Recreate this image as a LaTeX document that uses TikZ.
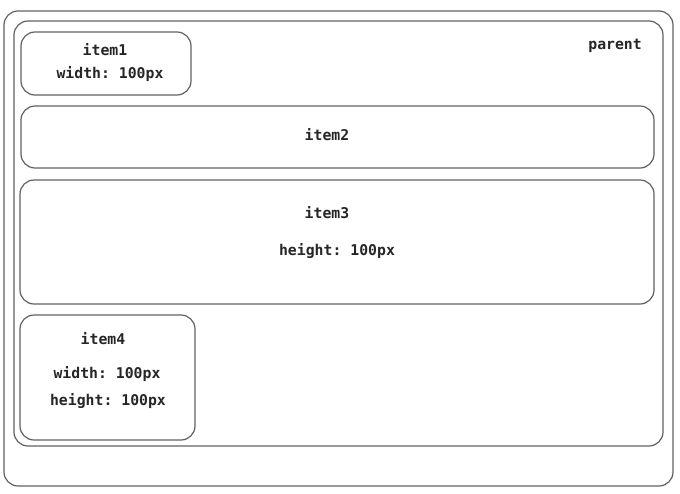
\documentclass[tikz,border=0pt]{standalone}
\usepackage{fontspec}
\setmonofont{DejaVu Sans Mono}
\usepackage{tikz}
\usetikzlibrary{positioning}

\tikzset{
	box/.style={draw=black!62, line width=1.2pt, rounded corners=14pt, inner sep=0pt, fill=white},
	txt/.style={font=\ttfamily\bfseries\fontsize{14.8pt}{17pt}\selectfont, text=black!85, inner sep=0pt, anchor=center},
}

\begin{document}
\begin{tikzpicture}[x=1pt, y=-1pt]
		\useasboundingbox (0,0) rectangle (680,493);
		\node[box, minimum width=669pt, minimum height=475pt] (outer) at (338.5,248.5) {};
		\node[box, minimum width=649pt, minimum height=425pt] (parent) at (338.5,233.5) {};
		\node[box, minimum width=170pt, minimum height=63pt] (item1) at (106,63.5) {};
		\node[box, minimum width=633pt, minimum height=62pt] (item2) at (337.5,137) {};
		\node[box, minimum width=634pt, minimum height=124pt] (item3) at (337,242) {};
		\node[box, minimum width=175pt, minimum height=125pt] (item4) at (107.5,377.5) {};
		\node[txt, anchor=east] (parentlbl) at (642,46) {parent};
		\node[txt] (item1name) at (105,50) {item1};
		\node[txt] (item1w) at (110,74) {width: 100px};
		\node[txt] (item2name) at (327,135) {item2};
		\node[txt] (item3name) at (327,213) {item3};
		\node[txt] (item3h) at (337,251) {height: 100px};
		\node[txt] (item4name) at (103,339) {item4};
		\node[txt] (item4w) at (107,374) {width: 100px};
		\node[txt] (item4h) at (108,401) {height: 100px};
	\end{tikzpicture}
\end{document}
